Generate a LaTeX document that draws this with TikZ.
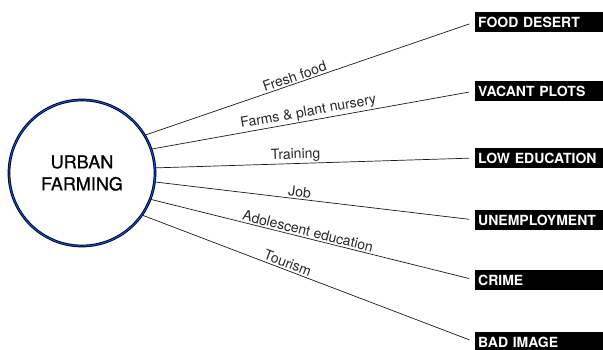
\documentclass[tikz,border=0pt]{standalone}
\usepackage{fontspec}
\setmainfont{TeX Gyre Heros}
\newfontfamily\hubfont[FakeBold=0.7]{TeX Gyre Heros}
\usetikzlibrary{positioning}

\begin{document}
\begin{tikzpicture}[x=1pt,y=-1pt,
    hub/.style={circle,draw=black,double=blue!65!cyan,double distance=0.9pt,
      line width=0.9pt,minimum size=146pt,align=center,
      font=\hubfont\fontsize{18}{22}\selectfont},
    issue/.style={fill=black,text=white,anchor=west,minimum height=20pt,
      text width=136pt,align=left,inner xsep=3pt,inner ysep=0pt,
      font=\bfseries\fontsize{14}{16}\selectfont},
    link/.style={draw=black!90,line width=0.7pt,shorten >=6pt},
    lbl/.style={sloped,above,inner sep=1.5pt,text=black!85,
      font=\fontsize{14}{16}\selectfont}]
  % \draw[help lines] (0,0) grid (603,350);
  \useasboundingbox (0,0) rectangle (603,350);
  \node[hub] (u_f) at (82,173) {URBAN\\FARMING};
  \node[issue] (f_d) at (475,22) {FOOD DESERT};
  \node[issue] (v_p) at (475,91) {VACANT PLOTS};
  \node[issue] (l_e) at (475,158) {LOW EDUCATION};
  \node[issue] (u_e) at (475,220) {UNEMPLOYMENT};
  \node[issue] (c_r) at (475,280) {CRIME};
  \node[issue] (b_i) at (475,342) {BAD IMAGE};
  \draw[link] (u_f.31) -- node[lbl,pos=0.46] {Fresh food} (f_d.west);
  \draw[link] (u_f.19) -- node[lbl,pos=0.49] {Farms \& plant nursery} (v_p.west);
  \draw[link] (u_f.4) -- node[lbl,pos=0.44] {Training} (l_e.west);
  \draw[link] (u_f.-7) -- node[lbl,pos=0.45] {Job} (u_e.west);
  \draw[link] (u_f.-21) -- node[lbl,pos=0.48] {Adolescent education} (c_r.west);
  \draw[link] (u_f.-35) -- node[lbl,pos=0.43] {Tourism} (b_i.west);
\end{tikzpicture}
\end{document}
